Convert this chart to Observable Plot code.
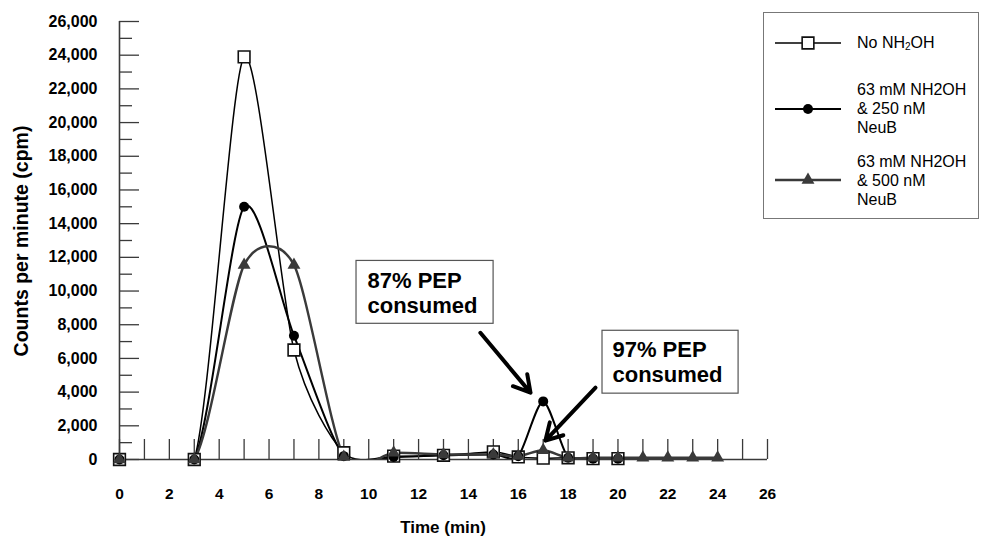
<!DOCTYPE html>
<html><head><meta charset="utf-8">
<script src="https://cdn.jsdelivr.net/npm/d3@7"></script>
<script src="https://cdn.jsdelivr.net/npm/@observablehq/plot@0.6"></script>
<style>
body{margin:0;background:#fff;}
#chart{width:981px;height:538px;}
</style></head><body><div id="chart"></div>
<script>
// ---- data ----
const time = [0, 3, 5, 7, 9, 11, 13, 15, 16, 17, 18, 19, 20, 21, 22, 23, 24];
const noNH2OH = [0, 0, 23900, 6500, 400, 200, 250, 450, 150, 80, 100, 50, 50];
const nm250 = [0, 0, 15000, 7350, 200, 150, 250, 300, 200, 3450, 100, 50, 50];
const nm500 = [0, 0, 11550, 11550, 150, 400, 300, 300, 200, 550, 100, 100, 100, 100, 100, 100, 100];
const seriesNames = ["No NH2OH", "63 mM NH2OH & 250 nM NeuB", "63 mM NH2OH & 500 nM NeuB"];
const legendLines = [["No NH", "2", "OH"], ["63 mM NH2OH", "& 250 nM", "NeuB"], ["63 mM NH2OH", "& 500 nM", "NeuB"]];
const xTickLabels = [0, 2, 4, 6, 8, 10, 12, 14, 16, 18, 20, 22, 24, 26];
const xTickMarks = [0,1,2,3,4,5,6,7,8,9,10,11,12,13,14,15,16,17,18,19,20,21,22,23,24,25,26];
const yTickLabels = [0, 2000, 4000, 6000, 8000, 10000, 12000, 14000, 16000, 18000, 20000, 22000, 24000, 26000];
const yMinorTicks = [1000, 3000, 5000, 7000, 9000, 11000, 13000, 15000, 17000, 19000, 21000, 23000, 25000];
// annotations (data units)
const annotationText = ["87% PEP\nconsumed", "97% PEP\nconsumed"];
const annotationTextX = [9.95, 19.78];
const annotationTextY = [8707, 4620];
const annotationBoxX1 = [9.51, 19.38];
const annotationBoxX2 = [15.01, 24.84];
const annotationBoxY1 = [8055, 3909];
const annotationBoxY2 = [11787, 7641];
const arrowX1 = [14.48, 19.10];
const arrowY1 = [7522, 4265];
const arrowX2 = [16.49, 17.09];
const arrowY2 = [3968, 1125];

const toRows = (vals, s) => vals.map((v, i) => ({t: time[i], v, s}));
const sq = toRows(noNH2OH, seriesNames[0]);
const ci = toRows(nm250, seriesNames[1]);
const tr = toRows(nm500, seriesNames[2]);

const FONT = "'Liberation Sans', Arial, Helvetica, sans-serif";
const axisColor = "#3a3a3a";
const triColor = "#3a3a3a";
const smooth = d3.curveCardinal.tension(0.23);

const chart = Plot.plot({
  width: 981,
  height: 538,
  marginLeft: 119,
  marginRight: 214,
  marginTop: 21,
  marginBottom: 79,
  style: {fontFamily: FONT, background: "#fff", overflow: "visible"},
  x: {domain: [0, 26], axis: null},
  y: {domain: [0, 26000], axis: null},
  marks: [
    // series lines (clipped to the plot area)
    Plot.line(sq, {x: "t", y: "v", stroke: "#000", strokeWidth: 1.5, curve: smooth, clip: true}),
    Plot.line(ci, {x: "t", y: "v", stroke: "#000", strokeWidth: 2, curve: smooth, clip: true}),
    Plot.line(tr, {x: "t", y: "v", stroke: triColor, strokeWidth: 2.4, curve: smooth, clip: true}),
    // axis lines
    Plot.ruleY([0], {y: d => d, stroke: axisColor, strokeWidth: 1.6}),
    Plot.ruleX([0], {x: d => d, stroke: axisColor, strokeWidth: 1.6}),
    // x ticks (inward, upward)
    Plot.ruleX(xTickMarks, {x: d => d, y1: 0, y2: 0, insetBottom: 20, stroke: axisColor, strokeWidth: 1.3}),
    // y ticks (inward, to the right)
    Plot.ruleY(yTickLabels, {y: d => d, x1: 0, x2: 0, insetRight: -20, stroke: axisColor, strokeWidth: 1.3}),
    Plot.ruleY(yMinorTicks, {y: d => d, x1: 0, x2: 0, insetRight: -13, stroke: axisColor, strokeWidth: 1.3}),
    // tick labels
    Plot.text(xTickLabels, {x: d => d, y: 0, dy: 35, text: d => String(d), fontSize: 15.5, fontWeight: "bold", fill: "#000"}),
    Plot.text(yTickLabels, {x: 0, y: d => d, dx: -22, text: d => d3.format(",")(d), textAnchor: "end", fontSize: 16, fontWeight: "bold", fill: "#000"}),
    // markers
    Plot.dot(sq, {x: "t", y: "v", symbol: "square", r: 6.6, fill: "#fff", stroke: "#111", strokeWidth: 1.6}),
    Plot.dot(ci, {x: "t", y: "v", symbol: "circle", r: 5, fill: "#000", stroke: "none"}),
    Plot.dot(tr, {x: "t", y: "v", symbol: "triangle", r: 4.8, fill: triColor, stroke: "none"}),
    // annotations
    Plot.rect(annotationText, {x1: (d, i) => annotationBoxX1[i], x2: (d, i) => annotationBoxX2[i], y1: (d, i) => annotationBoxY1[i], y2: (d, i) => annotationBoxY2[i], fill: "#fff", stroke: "#555", strokeWidth: 1.2}),
    Plot.text(annotationText, {x: (d, i) => annotationTextX[i], y: (d, i) => annotationTextY[i], text: d => d, textAnchor: "start", lineAnchor: "bottom", lineHeight: 1.14, fontSize: 22, fontWeight: "bold", fill: "#000"}),
    Plot.arrow(annotationText, {x1: (d, i) => arrowX1[i], y1: (d, i) => arrowY1[i], x2: (d, i) => arrowX2[i], y2: (d, i) => arrowY2[i], stroke: "#000", strokeWidth: 4, headLength: 7, headAngle: 60})
  ]
});

const svg = d3.select(chart);
// axis titles
svg.append("text")
  .attr("transform", "translate(21,241) rotate(-90)")
  .attr("text-anchor", "middle").attr("dominant-baseline", "central")
  .style("font-family", FONT).style("font-size", "19.5px").style("font-weight", "bold").attr("fill", "#000")
  .text("Counts per minute (cpm)");
svg.append("text")
  .attr("x", 443).attr("y", 527)
  .attr("text-anchor", "middle").attr("dominant-baseline", "central")
  .style("font-family", FONT).style("font-size", "17px").style("font-weight", "bold").attr("fill", "#000")
  .text("Time (min)");

// legend
const lg = svg.append("g").attr("text-anchor", "start");
lg.append("rect").attr("x", 763.5).attr("y", 12.5).attr("width", 215).attr("height", 206)
  .attr("fill", "#fff").attr("stroke", "#777").attr("stroke-width", 1);
const legendY = [43, 109, 180];
const legendStyles = [
  {stroke: "#000", sw: 1.5, sym: d3.symbolSquare, r: 6.6, fill: "#fff", mstroke: "#111"},
  {stroke: "#000", sw: 2, sym: d3.symbolCircle, r: 5, fill: "#000", mstroke: "none"},
  {stroke: triColor, sw: 2.4, sym: d3.symbolTriangle, r: 4.8, fill: triColor, mstroke: "none"}
];
const baselines = [[48], [95, 114, 133], [167, 186, 205]];
legendStyles.forEach((st, k) => {
  const y = legendY[k];
  lg.append("line").attr("x1", 775).attr("x2", 841).attr("y1", y).attr("y2", y)
    .attr("stroke", st.stroke).attr("stroke-width", st.sw);
  lg.append("path").attr("transform", `translate(808,${y})`)
    .attr("d", d3.symbol(st.sym, Math.PI * st.r * st.r)())
    .attr("fill", st.fill).attr("stroke", st.mstroke).attr("stroke-width", 1.6);
  const t = lg.append("text").attr("text-anchor", "start")
    .style("font-family", FONT).style("font-size", "16px").attr("fill", "#000");
  if (k === 0) {
    t.attr("x", 857).attr("y", baselines[0][0]);
    t.append("tspan").text(legendLines[0][0]);
    t.append("tspan").attr("dy", 2).style("font-size", "10px").text(legendLines[0][1]);
    t.append("tspan").attr("dy", -2).text(legendLines[0][2]);
  } else {
    legendLines[k].forEach((line, j) => {
      t.append("tspan").attr("x", 857).attr("y", baselines[k][j]).text(line);
    });
  }
});

document.getElementById("chart").appendChild(chart);
</script>
</body></html>
